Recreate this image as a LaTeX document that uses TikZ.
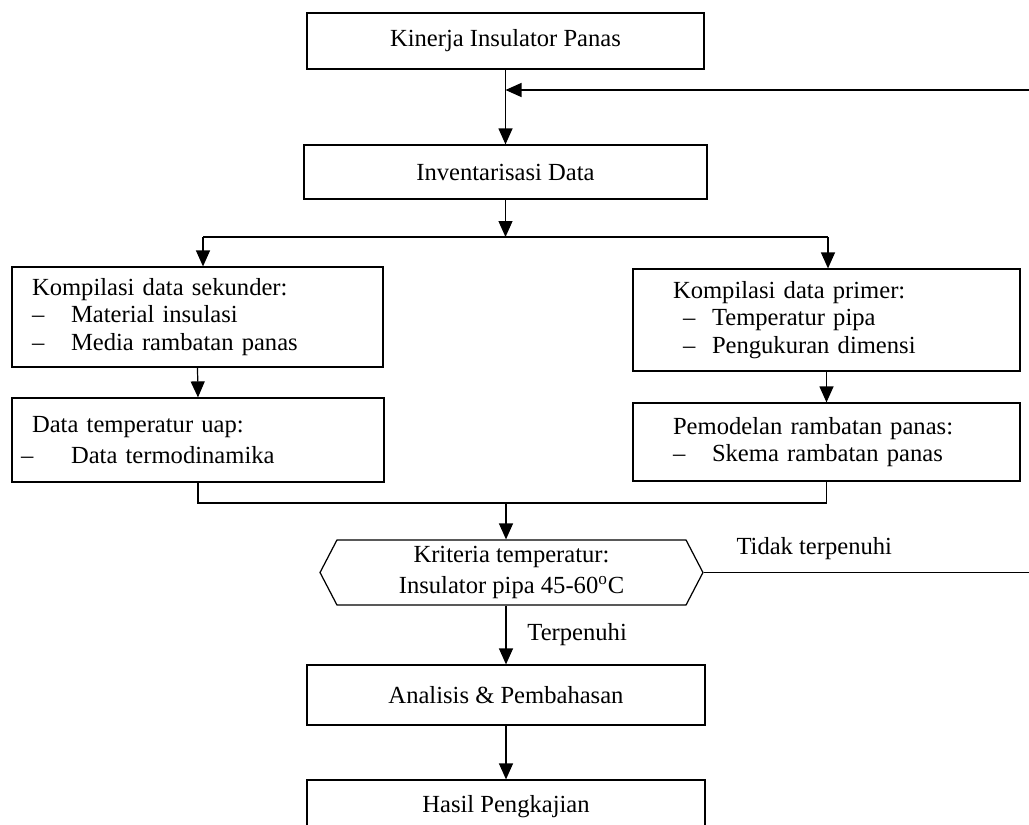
\documentclass[tikz,border=0pt]{standalone}
\usepackage{fontspec}
\setmainfont{Liberation Serif}
\usetikzlibrary{positioning,arrows.meta,shapes.symbols,calc}
\newcommand{\dashitem}[2]{\makebox[#1][l]{--}#2}

\begin{document}
\begin{tikzpicture}[
  x=0.02cm, y=-0.02cm,
  line width=0.7pt,
  font=\fontsize{14}{15.6}\selectfont,
  blk/.style={draw, minimum height=1.1cm, align=center},
  lst/.style={draw, inner xsep=0.4cm, align=left},
  hexa/.style={draw, signal, signal to=west and east, signal pointer angle=125,
               minimum width=7.66cm, minimum height=1.3cm, align=center, inner sep=0pt},
  arr/.style={-{Triangle[length=0.32cm,width=0.28cm]}}
]
\useasboundingbox (0,0) rectangle (1029,825);

\node[blk, minimum width=7.94cm, minimum height=1.12cm] (kin) at (505.5,41) {Kinerja Insulator Panas};
\node[blk, minimum width=8.06cm, minimum height=1.08cm] (inv) at (505.5,172) {Inventarisasi Data};

\node[lst, text width=6.62cm, minimum height=2.0cm] (sek) at (197.5,317)
  {Kompilasi data sekunder:\\ \dashitem{0.78cm}{Material insulasi}\\ \dashitem{0.78cm}{Media rambatan panas}};
\node[lst, text width=6.64cm, minimum height=1.68cm] (uap) at (198,440)
  {Data temperatur uap:\\[2pt] \hspace*{-0.22cm}\dashitem{1.0cm}{Data termodinamika}};
\node[lst, text width=6.94cm, minimum height=2.04cm] (pri) at (826.5,320)
  {\hspace*{0.4cm}Kompilasi data primer:\\ \hspace*{0.6cm}\dashitem{0.58cm}{Temperatur pipa}\\ \hspace*{0.6cm}\dashitem{0.58cm}{Pengukuran dimensi}};
\node[lst, text width=6.94cm, minimum height=1.56cm] (pem) at (826.5,442)
  {\hspace*{0.4cm}Pemodelan rambatan panas:\\ \hspace*{0.4cm}\dashitem{0.78cm}{Skema rambatan panas}};

\node[hexa] (crit) at (511.5,572.5) {Kriteria temperatur:\\[2pt] Insulator pipa 45-60\textsuperscript{o}C};

\node[blk, minimum width=7.96cm, minimum height=1.2cm] (ana) at (506,695) {Analisis \& Pembahasan};
\node[blk, minimum width=7.96cm, minimum height=1.08cm] (has) at (506,807) {Hasil Pengkajian};

\coordinate (fbin)  at (1029,90);
\coordinate (fbout) at (1029,572.5);
\coordinate (brl)   at (203,237);
\coordinate (brr)   at (828,237);
\coordinate (mrg)   at (506,503);

\draw[arr] (kin.south) -- (inv.north);
\draw[arr] (fbin) -- (kin.south |- fbin);
\draw[arr] (inv.south) -- (inv.south |- brl);
\draw (brl) -- (brr);
\draw[arr] (brl) -- (brl |- sek.north);
\draw[arr] (brr) -- (brr |- pri.north);
\draw[arr] (sek.south) -- (uap.north);
\draw[arr] (pri.south) -- (pem.north);
\draw (uap.south) |- (mrg) -| (pem.south);
\draw[arr] (mrg) -- (mrg |- crit.north);
\draw (crit.east) -- node[pos=0.34, above, yshift=0.12cm]{Tidak terpenuhi} (fbout);
\draw[arr] (ana.north |- crit.south) -- node[right, xshift=0.3cm]{Terpenuhi} (ana.north);
\draw[arr] (ana.south) -- (has.north);
\end{tikzpicture}
\end{document}
